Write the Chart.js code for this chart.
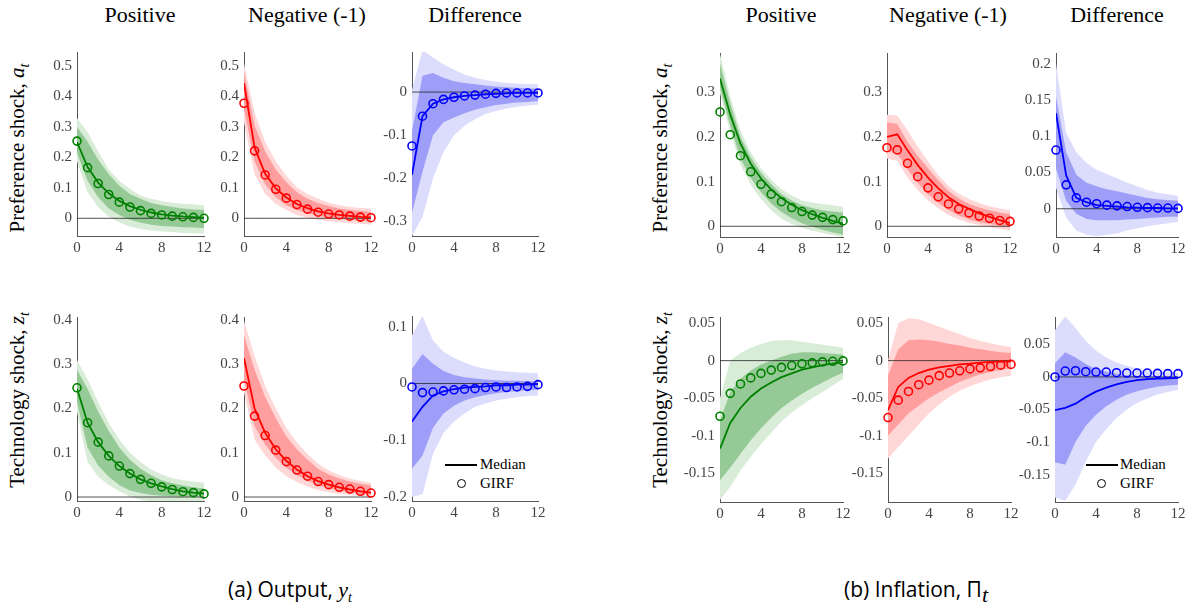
<!DOCTYPE html>
<html>
<head>
<meta charset="utf-8">
<script src="https://cdn.jsdelivr.net/npm/chart.js@4.4.0/dist/chart.umd.min.js"></script>
<style>
  body { margin: 0; background: #fff; width: 1191px; height: 613px; position: relative; overflow: hidden; font-family: "Liberation Serif", "DejaVu Serif", serif; }
  .title { position: absolute; top: 4px; font-family: "Liberation Serif", "Times New Roman", "DejaVu Serif", serif; font-size: 22px; line-height: 22px; transform: translateX(-50%); white-space: nowrap; color: #000; }
  .row { position: absolute; font-family: "Liberation Serif", "Times New Roman", "DejaVu Serif", serif; font-size: 21px; line-height: 21px; white-space: nowrap; transform: translate(-50%, -50%) rotate(-90deg); color: #000; }
  .cap { position: absolute; top: 579px; font-family: "Open Sans", sans-serif; font-size: 21px; line-height: 21px; transform: translateX(-50%); white-space: nowrap; color: #000; }
  .cap i { font-family: "Liberation Serif", "Times New Roman", "DejaVu Serif", serif; font-size: 22px; }
  .leg { position: absolute; font-family: "Liberation Serif", "Times New Roman", "DejaVu Serif", serif; font-size: 15px; line-height: 15px; white-space: nowrap; color: #000; }
  .legline { position: absolute; width: 32px; border-top: 2px solid #000; }
  .legdot { position: absolute; width: 7px; height: 7px; border: 1.6px solid #000; border-radius: 50%; }
</style>
</head>
<body>
<div class="title" style="left:140px">Positive</div>
<div class="title" style="left:307px">Negative (-1)</div>
<div class="title" style="left:475px">Difference</div>
<div class="title" style="left:781px">Positive</div>
<div class="title" style="left:948px">Negative (-1)</div>
<div class="title" style="left:1117px">Difference</div>

<div class="row" style="left:21px;top:148px">Preference shock, <i>a<sub style="font-size:14px">t</sub></i></div>
<div class="row" style="left:21px;top:400px">Technology shock, <i>z<sub style="font-size:14px">t</sub></i></div>
<div class="row" style="left:664px;top:148px">Preference shock, <i>a<sub style="font-size:14px">t</sub></i></div>
<div class="row" style="left:664px;top:400px">Technology shock, <i>z<sub style="font-size:14px">t</sub></i></div>

<div class="cap" style="left:290px">(a) Output, <i>y<sub style="font-size:14px">t</sub></i></div>
<div class="cap" style="left:916px">(b) Inflation, Π<sub style="font-size:14px"><i>t</i></sub></div>

<div class="legline" style="left:445px;top:464px"></div>
<div class="leg" style="left:480px;top:457px">Median</div>
<div class="legdot" style="left:457px;top:479px"></div>
<div class="leg" style="left:480px;top:476px">GIRF</div>

<div class="legline" style="left:1086px;top:464px"></div>
<div class="leg" style="left:1120px;top:457px">Median</div>
<div class="legdot" style="left:1097px;top:479px"></div>
<div class="leg" style="left:1120px;top:476px">GIRF</div>

<script>
const t = [0, 1, 2, 3, 4, 5, 6, 7, 8, 9, 10, 11, 12];
const xTicks = [0, 4, 8, 12];
const zeroLine = [0, 0, 0, 0, 0, 0, 0, 0, 0, 0, 0, 0, 0];

// tick labels for each panel's y axis
const ticksOutPref = [0, 0.1, 0.2, 0.3, 0.4, 0.5];
const ticksOutPrefDiff = [-0.3, -0.2, -0.1, 0];
const ticksOutTech = [0, 0.1, 0.2, 0.3, 0.4];
const ticksOutTechDiff = [-0.2, -0.1, 0, 0.1];
const ticksInfPref = [0, 0.1, 0.2, 0.3];
const ticksInfPrefDiff = [0, 0.05, 0.1, 0.15, 0.2];
const ticksInfTech = [-0.15, -0.1, -0.05, 0, 0.05];

// Output, preference shock, positive
const yAP_med   = [0.250, 0.168, 0.117, 0.082, 0.057, 0.040, 0.028, 0.019, 0.013, 0.009, 0.006, 0.004, 0.002];
const yAP_girf  = [0.253, 0.166, 0.114, 0.078, 0.053, 0.037, 0.025, 0.016, 0.011, 0.007, 0.005, 0.003, 0.000];
const yAP_inHi  = [0.299, 0.251, 0.192, 0.144, 0.107, 0.080, 0.064, 0.050, 0.043, 0.037, 0.032, 0.029, 0.027];
const yAP_inLo  = [0.214, 0.123, 0.069, 0.032, 0.011, -0.005, -0.014, -0.021, -0.025, -0.027, -0.029, -0.030, -0.032];
const yAP_outHi = [0.328, 0.283, 0.219, 0.160, 0.123, 0.096, 0.075, 0.064, 0.057, 0.051, 0.048, 0.045, 0.043];
const yAP_outLo = [0.187, 0.085, 0.037, 0.005, -0.014, -0.027, -0.035, -0.040, -0.043, -0.045, -0.048, -0.049, -0.050];

// Output, preference shock, negative
const yAN_med   = [0.443, 0.232, 0.146, 0.098, 0.068, 0.047, 0.033, 0.023, 0.016, 0.011, 0.008, 0.005, 0.003];
const yAN_girf  = [0.377, 0.221, 0.142, 0.095, 0.066, 0.045, 0.030, 0.020, 0.014, 0.011, 0.007, 0.004, 0.002];
const yAN_inHi  = [0.480, 0.304, 0.219, 0.160, 0.118, 0.085, 0.064, 0.050, 0.040, 0.032, 0.027, 0.024, 0.021];
const yAN_inLo  = [0.358, 0.187, 0.112, 0.069, 0.043, 0.027, 0.016, 0.008, 0.002, -0.002, -0.005, -0.008, -0.011];
const yAN_outHi = [0.507, 0.347, 0.250, 0.187, 0.139, 0.101, 0.080, 0.064, 0.051, 0.043, 0.037, 0.034, 0.032];
const yAN_outLo = [0.315, 0.144, 0.080, 0.048, 0.027, 0.011, 0.002, -0.005, -0.010, -0.013, -0.016, -0.018, -0.021];

// Output, preference shock, difference
const yAD_med   = [-0.192, -0.056, -0.027, -0.017, -0.012, -0.009, -0.007, -0.005, -0.004, -0.003, -0.002, -0.002, -0.002];
const yAD_girf  = [-0.125, -0.056, -0.027, -0.017, -0.012, -0.009, -0.007, -0.005, -0.003, -0.002, -0.002, -0.002, -0.002];
const yAD_inHi  = [-0.090, 0.038, 0.044, 0.033, 0.025, 0.021, 0.018, 0.015, 0.013, 0.011, 0.010, 0.009, 0.008];
const yAD_inLo  = [-0.280, -0.185, -0.100, -0.070, -0.059, -0.049, -0.041, -0.035, -0.030, -0.027, -0.024, -0.023, -0.021];
const yAD_outHi = [0.005, 0.098, 0.080, 0.064, 0.052, 0.041, 0.033, 0.028, 0.024, 0.021, 0.020, 0.019, 0.018];
const yAD_outLo = [-0.334, -0.290, -0.200, -0.139, -0.100, -0.078, -0.063, -0.051, -0.044, -0.038, -0.034, -0.031, -0.029];

// Output, technology shock, positive
const yZP_med   = [0.245, 0.168, 0.124, 0.093, 0.070, 0.053, 0.040, 0.031, 0.024, 0.018, 0.013, 0.010, 0.008];
const yZP_girf  = [0.247, 0.168, 0.124, 0.093, 0.070, 0.053, 0.040, 0.031, 0.023, 0.017, 0.012, 0.010, 0.007];
const yZP_inHi  = [0.288, 0.244, 0.193, 0.149, 0.112, 0.084, 0.064, 0.049, 0.038, 0.031, 0.026, 0.022, 0.019];
const yZP_inLo  = [0.215, 0.112, 0.071, 0.046, 0.027, 0.015, 0.009, 0.005, 0.003, 0.002, 0.001, 0.001, 0.001];
const yZP_outHi = [0.309, 0.266, 0.215, 0.167, 0.130, 0.100, 0.079, 0.062, 0.051, 0.043, 0.038, 0.035, 0.032];
const yZP_outLo = [0.193, 0.079, 0.046, 0.027, 0.013, 0.001, -0.006, -0.010, -0.012, -0.013, -0.014, -0.015, -0.015];

// Output, technology shock, negative
const yZN_med   = [0.314, 0.200, 0.145, 0.108, 0.082, 0.062, 0.047, 0.036, 0.028, 0.022, 0.017, 0.013, 0.010];
const yZN_girf  = [0.251, 0.183, 0.139, 0.106, 0.080, 0.061, 0.047, 0.035, 0.028, 0.022, 0.018, 0.013, 0.009];
const yZN_inHi  = [0.365, 0.288, 0.226, 0.178, 0.137, 0.108, 0.084, 0.064, 0.051, 0.042, 0.035, 0.030, 0.026];
const yZN_inLo  = [0.266, 0.160, 0.118, 0.088, 0.066, 0.050, 0.037, 0.027, 0.020, 0.014, 0.010, 0.007, 0.005];
const yZN_outHi = [0.398, 0.318, 0.251, 0.200, 0.156, 0.123, 0.097, 0.075, 0.060, 0.050, 0.042, 0.036, 0.032];
const yZN_outLo = [0.237, 0.130, 0.094, 0.066, 0.047, 0.034, 0.024, 0.016, 0.011, 0.007, 0.005, 0.003, 0.001];

// Output, technology shock, difference
const yZD_med   = [-0.067, -0.041, -0.021, -0.014, -0.010, -0.007, -0.006, -0.005, -0.003, -0.003, -0.002, -0.002, -0.001];
const yZD_girf  = [-0.006, -0.016, -0.015, -0.013, -0.011, -0.010, -0.009, -0.007, -0.006, -0.007, -0.006, -0.005, -0.002];
const yZD_inHi  = [0.026, 0.052, 0.035, 0.022, 0.015, 0.011, 0.009, 0.007, 0.006, 0.005, 0.005, 0.004, 0.004];
const yZD_inLo  = [-0.150, -0.127, -0.078, -0.053, -0.039, -0.030, -0.024, -0.020, -0.017, -0.015, -0.013, -0.012, -0.011];
const yZD_outHi = [0.085, 0.119, 0.076, 0.056, 0.045, 0.037, 0.030, 0.026, 0.023, 0.021, 0.020, 0.019, 0.018];
const yZD_outLo = [-0.200, -0.195, -0.124, -0.087, -0.067, -0.053, -0.041, -0.035, -0.030, -0.027, -0.024, -0.022, -0.021];

// Inflation, preference shock, positive
const pAP_med   = [0.331, 0.250, 0.185, 0.140, 0.107, 0.082, 0.063, 0.048, 0.036, 0.027, 0.019, 0.012, 0.006];
const pAP_girf  = [0.256, 0.205, 0.158, 0.122, 0.094, 0.072, 0.055, 0.042, 0.033, 0.025, 0.020, 0.015, 0.012];
const pAP_inHi  = [0.365, 0.275, 0.200, 0.154, 0.120, 0.094, 0.072, 0.058, 0.047, 0.041, 0.036, 0.033, 0.031];
const pAP_inLo  = [0.310, 0.225, 0.152, 0.108, 0.076, 0.051, 0.032, 0.018, 0.007, -0.001, -0.008, -0.014, -0.019];
const pAP_outHi = [0.385, 0.290, 0.214, 0.165, 0.130, 0.104, 0.083, 0.069, 0.058, 0.053, 0.050, 0.047, 0.044];
const pAP_outLo = [0.298, 0.210, 0.138, 0.093, 0.061, 0.036, 0.017, 0.005, -0.004, -0.010, -0.015, -0.020, -0.024];

// Inflation, preference shock, negative
const pAN_med   = [0.200, 0.206, 0.170, 0.137, 0.109, 0.085, 0.065, 0.050, 0.039, 0.029, 0.021, 0.014, 0.007];
const pAN_girf  = [0.176, 0.171, 0.141, 0.111, 0.086, 0.066, 0.050, 0.039, 0.030, 0.023, 0.018, 0.013, 0.011];
const pAN_inHi  = [0.233, 0.229, 0.189, 0.158, 0.130, 0.103, 0.079, 0.062, 0.050, 0.042, 0.036, 0.031, 0.027];
const pAN_inLo  = [0.167, 0.163, 0.127, 0.097, 0.072, 0.052, 0.036, 0.024, 0.015, 0.009, 0.005, 0.001, -0.002];
const pAN_outHi = [0.250, 0.248, 0.215, 0.178, 0.145, 0.115, 0.090, 0.073, 0.061, 0.052, 0.045, 0.040, 0.036];
const pAN_outLo = [0.152, 0.146, 0.109, 0.081, 0.058, 0.040, 0.025, 0.015, 0.008, 0.003, -0.002, -0.006, -0.009];

// Inflation, preference shock, difference
const pAD_med   = [0.132, 0.046, 0.015, 0.009, 0.005, 0.004, 0.003, 0.002, 0.0015, 0.001, 0.001, 0.0005, 0.0005];
const pAD_girf  = [0.081, 0.033, 0.015, 0.009, 0.007, 0.005, 0.004, 0.003, 0.002, 0.0015, 0.001, 0.001, 0.0005];
const pAD_inHi  = [0.155, 0.078, 0.047, 0.036, 0.031, 0.027, 0.024, 0.021, 0.018, 0.015, 0.013, 0.012, 0.011];
const pAD_inLo  = [0.056, 0.011, -0.007, -0.014, -0.016, -0.016, -0.016, -0.015, -0.014, -0.013, -0.012, -0.011, -0.011];
const pAD_outHi = [0.200, 0.105, 0.078, 0.063, 0.054, 0.048, 0.042, 0.036, 0.031, 0.026, 0.022, 0.020, 0.018];
const pAD_outLo = [0.029, -0.012, -0.030, -0.036, -0.038, -0.036, -0.034, -0.030, -0.027, -0.024, -0.022, -0.020, -0.018];

// Inflation, technology shock, positive
const pZP_med   = [-0.117, -0.083, -0.063, -0.048, -0.037, -0.029, -0.022, -0.017, -0.012, -0.009, -0.006, -0.004, -0.002];
const pZP_girf  = [-0.074, -0.0435, -0.031, -0.023, -0.017, -0.0126, -0.009, -0.0065, -0.0043, -0.003, -0.0017, -0.0009, -0.0004];
const pZP_inHi  = [-0.080, -0.042, -0.024, -0.013, -0.005, 0.000, 0.005, 0.009, 0.011, 0.011, 0.010, 0.009, 0.008];
const pZP_inLo  = [-0.159, -0.142, -0.124, -0.106, -0.090, -0.076, -0.063, -0.053, -0.044, -0.036, -0.029, -0.022, -0.016];
const pZP_outHi = [-0.050, 0.000, 0.010, 0.017, 0.022, 0.026, 0.027, 0.027, 0.025, 0.023, 0.021, 0.019, 0.017];
const pZP_outLo = [-0.185, -0.168, -0.146, -0.128, -0.111, -0.096, -0.081, -0.069, -0.059, -0.050, -0.042, -0.033, -0.024];

// Inflation, technology shock, negative
const pZN_med   = [-0.066, -0.035, -0.023, -0.0165, -0.012, -0.009, -0.007, -0.005, -0.004, -0.0026, -0.0017, -0.0013, -0.0009];
const pZN_girf  = [-0.0757, -0.0526, -0.041, -0.032, -0.026, -0.020, -0.0165, -0.0135, -0.011, -0.0096, -0.0078, -0.006, -0.005];
const pZN_inHi  = [-0.020, 0.015, 0.027, 0.028, 0.027, 0.025, 0.022, 0.020, 0.017, 0.015, 0.013, 0.011, 0.010];
const pZN_inLo  = [-0.100, -0.085, -0.070, -0.060, -0.050, -0.042, -0.035, -0.028, -0.023, -0.018, -0.015, -0.012, -0.010];
const pZN_outHi = [0.000, 0.050, 0.0565, 0.055, 0.050, 0.045, 0.040, 0.035, 0.030, 0.026, 0.023, 0.020, 0.018];
const pZN_outLo = [-0.130, -0.115, -0.100, -0.085, -0.070, -0.058, -0.048, -0.040, -0.034, -0.029, -0.025, -0.022, -0.020];

// Inflation, technology shock, difference
const pZD_med   = [-0.051, -0.0475, -0.041, -0.031, -0.0225, -0.0165, -0.0115, -0.0075, -0.005, -0.0035, -0.0025, -0.002, -0.0015];
const pZD_girf  = [0.000, 0.009, 0.0095, 0.008, 0.0075, 0.0075, 0.0065, 0.006, 0.006, 0.006, 0.0055, 0.005, 0.005];
const pZD_inHi  = [0.021, 0.038, 0.030, 0.020, 0.012, 0.008, 0.005, 0.003, 0.002, 0.001, 0.000, 0.000, -0.001];
const pZD_inLo  = [-0.131, -0.135, -0.100, -0.075, -0.058, -0.045, -0.035, -0.027, -0.022, -0.018, -0.015, -0.013, -0.012];
const pZD_outHi = [0.072, 0.093, 0.075, 0.055, 0.040, 0.030, 0.022, 0.017, 0.013, 0.010, 0.008, 0.007, 0.006];
const pZD_outLo = [-0.185, -0.190, -0.165, -0.130, -0.100, -0.080, -0.063, -0.050, -0.040, -0.033, -0.027, -0.023, -0.020];

const green = ['#008000', '#95c995', '#d8ecd8'];
const red = ['#ff0000', '#ff9e9e', '#ffd7d7'];
const blue = ['#0000ff', '#9e9ef8', '#dcdcfc'];

// box = plot area [left, top, right, bottom] in page pixels
const panels = [
  {box: [77, 48, 204, 236],   y: [-0.058, 0.545], ticks: ticksOutPref, c: green, med: yAP_med, girf: yAP_girf, inHi: yAP_inHi, inLo: yAP_inLo, outHi: yAP_outHi, outLo: yAP_outLo},
  {box: [244, 48, 371, 236],  y: [-0.058, 0.545], ticks: ticksOutPref, c: red,   med: yAN_med, girf: yAN_girf, inHi: yAN_inHi, inLo: yAN_inLo, outHi: yAN_outHi, outLo: yAN_outLo},
  {box: [412, 48, 538, 236],  y: [-0.334, 0.093], ticks: ticksOutPrefDiff, c: blue, med: yAD_med, girf: yAD_girf, inHi: yAD_inHi, inLo: yAD_inLo, outHi: yAD_outHi, outLo: yAD_outLo},
  {box: [77, 313, 204, 501],  y: [-0.009, 0.407], ticks: ticksOutTech, c: green, med: yZP_med, girf: yZP_girf, inHi: yZP_inHi, inLo: yZP_inLo, outHi: yZP_outHi, outLo: yZP_outLo},
  {box: [244, 313, 371, 501], y: [-0.009, 0.407], ticks: ticksOutTech, c: red,   med: yZN_med, girf: yZN_girf, inHi: yZN_inHi, inLo: yZN_inLo, outHi: yZN_outHi, outLo: yZN_outLo},
  {box: [412, 312, 538, 501], y: [-0.207, 0.119], ticks: ticksOutTechDiff, c: blue, med: yZD_med, girf: yZD_girf, inHi: yZD_inHi, inLo: yZD_inLo, outHi: yZD_outHi, outLo: yZD_outLo},
  {box: [720, 49, 843, 237],  y: [-0.024, 0.388], ticks: ticksInfPref, c: green, med: pAP_med, girf: pAP_girf, inHi: pAP_inHi, inLo: pAP_inLo, outHi: pAP_outHi, outLo: pAP_outLo},
  {box: [887, 49, 1010, 237], y: [-0.024, 0.388], ticks: ticksInfPref, c: red,   med: pAN_med, girf: pAN_girf, inHi: pAN_inHi, inLo: pAN_inLo, outHi: pAN_outHi, outLo: pAN_outLo},
  {box: [1056, 49, 1178, 237], y: [-0.039, 0.215], ticks: ticksInfPrefDiff, c: blue, med: pAD_med, girf: pAD_girf, inHi: pAD_inHi, inLo: pAD_inLo, outHi: pAD_outHi, outLo: pAD_outLo},
  {box: [720, 313, 843, 502], y: [-0.188, 0.058], ticks: ticksInfTech, c: green, med: pZP_med, girf: pZP_girf, inHi: pZP_inHi, inLo: pZP_inLo, outHi: pZP_outHi, outLo: pZP_outLo},
  {box: [888, 313, 1011, 502], y: [-0.188, 0.058], ticks: ticksInfTech, c: red,  med: pZN_med, girf: pZN_girf, inHi: pZN_inHi, inLo: pZN_inLo, outHi: pZN_outHi, outLo: pZN_outLo},
  {box: [1055, 313, 1178, 502], y: [-0.192, 0.092], ticks: ticksInfTech, c: blue, med: pZD_med, girf: pZD_girf, inHi: pZD_inHi, inLo: pZD_inLo, outHi: pZD_outHi, outLo: pZD_outLo}
];

const pts = arr => t.map((x, i) => ({x: x, y: arr[i]}));
const tickFont = {family: '"Liberation Serif", "Times New Roman", "DejaVu Serif", serif', size: 15};
const none = 'rgba(0,0,0,0)';

function band(arr, color, fill) {
  return {data: pts(arr), borderWidth: 0, borderColor: none, pointRadius: 0,
          backgroundColor: color || none, fill: fill || false};
}

function makePanel(p) {
  const [l, top, r, b] = p.box;
  const padL = 45, padT = 10, padR = 14, padB = 24;
  const w = r - l + padL + padR;
  const h = b - top + padT + padB;
  const cv = document.createElement('canvas');
  cv.width = w;
  cv.height = h;
  cv.style.cssText = 'position:absolute;left:' + (l - padL) + 'px;top:' + (top - padT) + 'px;width:' + w + 'px;height:' + h + 'px';
  document.body.appendChild(cv);

  new Chart(cv, {
    type: 'line',
    data: {
      datasets: [
        {data: pts(p.girf), showLine: false, pointRadius: 4, pointBorderWidth: 1.6,
         pointBorderColor: p.c[0], pointBackgroundColor: none, clip: false},
        {data: pts(p.med), borderColor: p.c[0], borderWidth: 1.8, pointRadius: 0, tension: 0},
        {data: pts(zeroLine), borderColor: '#222', borderWidth: 0.8, pointRadius: 0},
        band(p.inHi, p.c[1], '+1'),
        band(p.inLo),
        band(p.outHi, p.c[2], '+1'),
        band(p.outLo)
      ]
    },
    options: {
      responsive: false,
      animation: false,
      events: [],
      layout: {padding: {left: 0, top: padT, right: padR, bottom: 0}},
      plugins: {legend: {display: false}, tooltip: {enabled: false}},
      scales: {
        x: {
          type: 'linear', min: 0, max: 12,
          afterBuildTicks: s => { s.ticks = xTicks.map(v => ({value: v})); },
          afterFit: s => { s.height = padB; },
          grid: {display: false, drawTicks: false},
          border: {display: true, color: '#555', width: 1},
          ticks: {color: '#444', font: tickFont, padding: 3, maxRotation: 0, autoSkip: false}
        },
        y: {
          min: p.y[0], max: p.y[1],
          afterBuildTicks: s => { s.ticks = p.ticks.map(v => ({value: v})); },
          afterFit: s => { s.width = padL; },
          grid: {display: false, drawTicks: false},
          border: {display: true, color: '#555', width: 1},
          ticks: {color: '#444', font: tickFont, padding: 5, autoSkip: false,
                  callback: v => String(+v.toFixed(3))}
        }
      }
    }
  });
}

panels.forEach(makePanel);
</script>
</body>
</html>
